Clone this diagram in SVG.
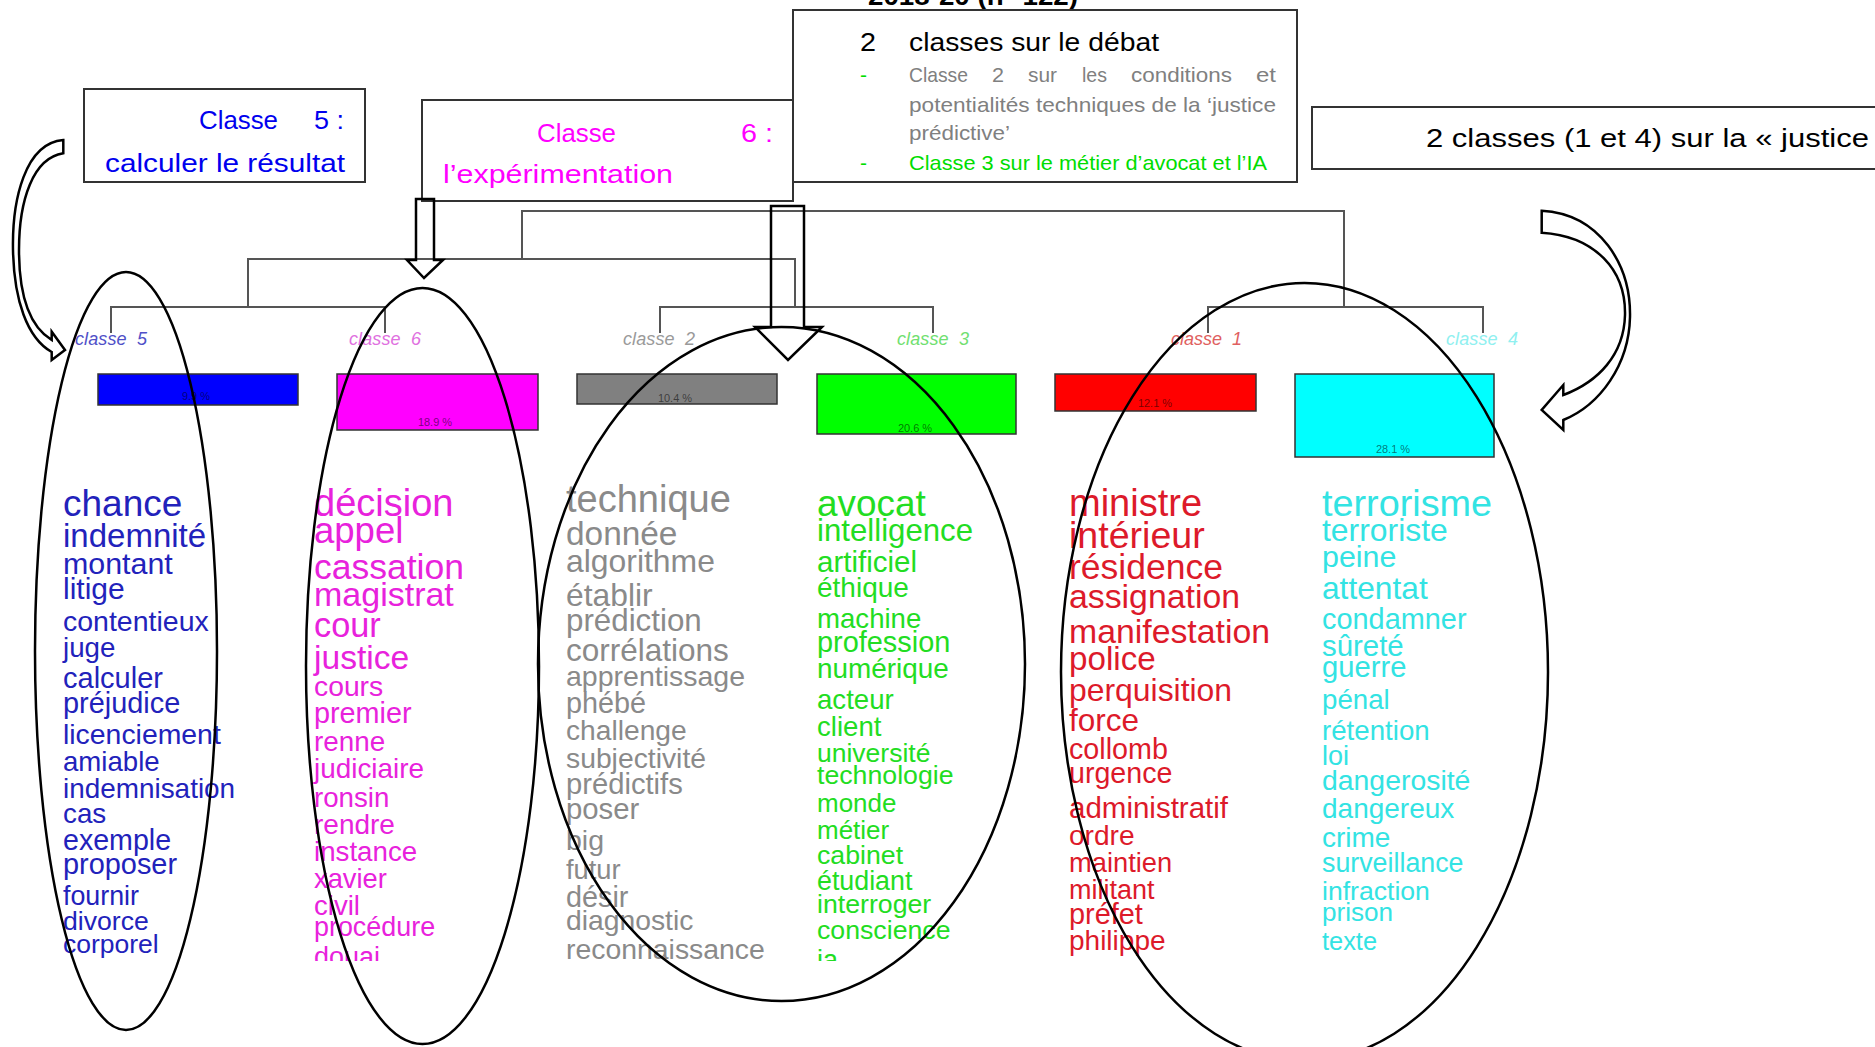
<svg xmlns="http://www.w3.org/2000/svg" width="1875" height="1047" viewBox="0 0 1875 1047">
<defs>
<style>
.box{fill:#fff;stroke:#333;stroke-width:2}
.dend{fill:none;stroke:#555;stroke-width:2}
.ell{fill:none;stroke:#000;stroke-width:2.5}
.arr{fill:none;stroke:#000;stroke-width:2.5;stroke-linejoin:miter}
.carr{fill:#fff;stroke:#000;stroke-width:2.5;stroke-linejoin:miter}
.t{font-family:"Liberation Sans",Arial,sans-serif;font-size:26px}
.g{font-family:"Liberation Sans",Arial,sans-serif;font-size:21px;fill:#808080}
.lbl{font-family:"Liberation Sans",Arial,sans-serif;font-style:italic;font-size:18px}
.pct{font-family:"Liberation Sans",Arial,sans-serif;font-size:11px;fill:#000;fill-opacity:.55;text-anchor:middle}
.w{font-family:"Liberation Sans",Arial,sans-serif}
.c5{fill:#2222bb}.c6{fill:#e822dc}.c2{fill:#8a8a8a}.c3{fill:#22dd22}.c1{fill:#dd1a2a}.c4{fill:#33e3e3}
</style>
<clipPath id="wc"><rect x="0" y="380" width="1875" height="581"/></clipPath>
</defs>

<g id="title">
<text class="t" x="868" y="4.5" font-weight="bold" textLength="210" lengthAdjust="spacingAndGlyphs">2018-20 (n° 122)</text>
</g>

<g id="connectors">
<polyline class="dend" points="522,259 522,211 1344,211 1344,307"/>
<polyline class="dend" points="248,307 248,259 795,259 795,307"/>
<polyline class="dend" points="111,333 111,307 385,307 385,333"/>
<polyline class="dend" points="660,333 660,307 933,307 933,333"/>
<polyline class="dend" points="1208,333 1208,307 1483,307 1483,333"/>
</g>

<g id="classe5">
<text class="lbl" x="75" y="345" fill="#5050c8" xml:space="preserve" textLength="72">classe  5</text>
<rect x="98" y="374" width="200" height="31" fill="#0000ff" stroke="#333" stroke-width="1.5"/>
<text class="pct" x="196" y="400">9.9 %</text>
<g class="w c5" clip-path="url(#wc)">
<text x="63" y="515.5" font-size="37">chance</text>
<text x="63" y="546.5" font-size="33">indemnité</text>
<text x="63" y="573.6" font-size="30.4">montant</text>
<text x="63" y="598.7" font-size="30">litige</text>
<text x="63" y="630.5" font-size="28.5">contentieux</text>
<text x="63" y="656.8" font-size="27.7">juge</text>
<text x="63" y="687.8" font-size="29">calculer</text>
<text x="63" y="713" font-size="28.9">préjudice</text>
<text x="63" y="744" font-size="28.4">licenciement</text>
<text x="63" y="771" font-size="27.6">amiable</text>
<text x="63" y="798" font-size="27.9">indemnisation</text>
<text x="63" y="823" font-size="27.8">cas</text>
<text x="63" y="850" font-size="28.6">exemple</text>
<text x="63" y="874" font-size="28.9">proposer</text>
<text x="63" y="904.6" font-size="26.8">fournir</text>
<text x="63" y="929.7" font-size="26.6">divorce</text>
<text x="63" y="953" font-size="26.5">corporel</text>
</g>
</g>

<g id="classe6">
<text class="lbl" x="349" y="345" fill="#e070e0" xml:space="preserve" textLength="72">classe  6</text>
<rect x="337" y="374" width="201" height="56" fill="#ff00ff" stroke="#333" stroke-width="1.5"/>
<text class="pct" x="435" y="426">18.9 %</text>
<g class="w c6" clip-path="url(#wc)">
<text x="314" y="515.5" font-size="38">décision</text>
<text x="314" y="542.6" font-size="36.5">appel</text>
<text x="314" y="578.6" font-size="35.5">cassation</text>
<text x="314" y="605.7" font-size="34">magistrat</text>
<text x="314" y="637.4" font-size="34.3">cour</text>
<text x="314" y="669" font-size="33.6">justice</text>
<text x="314" y="695.5" font-size="28.3">cours</text>
<text x="314" y="723.4" font-size="28.8">premier</text>
<text x="314" y="750.5" font-size="27.8">renne</text>
<text x="314" y="777.6" font-size="27.9">judiciaire</text>
<text x="314" y="807" font-size="27.7">ronsin</text>
<text x="314" y="834" font-size="28">rendre</text>
<text x="314" y="861" font-size="27.7">instance</text>
<text x="314" y="888" font-size="27.3">xavier</text>
<text x="314" y="915.4" font-size="27.6">civil</text>
<text x="314" y="936.3" font-size="26.9">procédure</text>
<text x="314" y="966" font-size="27">douai</text>
</g>
</g>

<g id="classe2">
<text class="lbl" x="623" y="345" fill="#9a9a9a" xml:space="preserve" textLength="72">classe  2</text>
<rect x="577" y="374" width="200" height="30" fill="#808080" stroke="#333" stroke-width="1.5"/>
<text class="pct" x="675" y="401.5">10.4 %</text>
<g class="w c2" clip-path="url(#wc)">
<text x="566" y="511.6" font-size="38">technique</text>
<text x="566" y="545.3" font-size="33.4">donnée</text>
<text x="566" y="572.4" font-size="31.9">algorithme</text>
<text x="566" y="605.7" font-size="31.8">établir</text>
<text x="566" y="630.5" font-size="31.3">prédiction</text>
<text x="566" y="661.4" font-size="31.5">corrélations</text>
<text x="566" y="685.8" font-size="28.5">apprentissage</text>
<text x="566" y="713" font-size="28.8">phébé</text>
<text x="566" y="740" font-size="28.2">challenge</text>
<text x="566" y="768.3" font-size="28.3">subjectivité</text>
<text x="566" y="794.2" font-size="29.2">prédictifs</text>
<text x="566" y="819.4" font-size="29.3">poser</text>
<text x="566" y="849.6" font-size="28.5">big</text>
<text x="566" y="879.4" font-size="27.3">futur</text>
<text x="566" y="906.5" font-size="28.8">désir</text>
<text x="566" y="929.7" font-size="28.3">diagnostic</text>
<text x="566" y="958.8" font-size="28.4">reconnaissance</text>
</g>
</g>

<g id="classe3">
<text class="lbl" x="897" y="345" fill="#70e070" xml:space="preserve" textLength="72">classe  3</text>
<rect x="817" y="374" width="199" height="60" fill="#00ff00" stroke="#333" stroke-width="1.5"/>
<text class="pct" x="915" y="431.5">20.6 %</text>
<g class="w c3" clip-path="url(#wc)">
<text x="817" y="515.5" font-size="36.9">avocat</text>
<text x="817" y="540.7" font-size="31.2">intelligence</text>
<text x="817" y="571.6" font-size="29.5">artificiel</text>
<text x="817" y="596.8" font-size="28">éthique</text>
<text x="817" y="627.8" font-size="27.6">machine</text>
<text x="817" y="652.2" font-size="28.9">profession</text>
<text x="817" y="678" font-size="27.9">numérique</text>
<text x="817" y="709" font-size="27.6">acteur</text>
<text x="817" y="736" font-size="27.6">client</text>
<text x="817" y="762" font-size="26.5">université</text>
<text x="817" y="783.8" font-size="26.7">technologie</text>
<text x="817" y="812.4" font-size="26">monde</text>
<text x="817" y="838.8" font-size="26">métier</text>
<text x="817" y="864" font-size="26.7">cabinet</text>
<text x="817" y="889.9" font-size="26.8">étudiant</text>
<text x="817" y="913" font-size="26.7">interroger</text>
<text x="817" y="939.4" font-size="26.7">conscience</text>
<text x="817" y="968.5" font-size="27">ia</text>
</g>
</g>

<g id="classe1">
<text class="lbl" x="1171" y="345" fill="#e06060" xml:space="preserve" textLength="71">classe  1</text>
<rect x="1055" y="374" width="201" height="37" fill="#ff0000" stroke="#333" stroke-width="1.5"/>
<text class="pct" x="1155" y="407">12.1 %</text>
<g class="w c1" clip-path="url(#wc)">
<text x="1069" y="515.5" font-size="38">ministre</text>
<text x="1069" y="548.4" font-size="37.6">intérieur</text>
<text x="1069" y="578.6" font-size="35.5">résidence</text>
<text x="1069" y="608.4" font-size="33.8">assignation</text>
<text x="1069" y="643.3" font-size="33.8">manifestation</text>
<text x="1069" y="670.3" font-size="33.2">police</text>
<text x="1069" y="701.3" font-size="31.9">perquisition</text>
<text x="1069" y="731.1" font-size="31.5">force</text>
<text x="1069" y="759.4" font-size="28.7">collomb</text>
<text x="1069" y="782.6" font-size="28.6">urgence</text>
<text x="1069" y="817.5" font-size="29.5">administratif</text>
<text x="1069" y="844.6" font-size="28.1">ordre</text>
<text x="1069" y="871.7" font-size="27.3">maintien</text>
<text x="1069" y="898.8" font-size="27">militant</text>
<text x="1069" y="924" font-size="28.9">préfet</text>
<text x="1069" y="950.3" font-size="28">philippe</text>
</g>
</g>

<g id="classe4">
<text class="lbl" x="1446" y="345" fill="#90f0f0" xml:space="preserve" textLength="72">classe  4</text>
<rect x="1295" y="374" width="199" height="83" fill="#00ffff" stroke="#333" stroke-width="1.5"/>
<text class="pct" x="1393" y="453">28.1 %</text>
<g class="w c4" clip-path="url(#wc)">
<text x="1322" y="515.5" font-size="37.8">terrorisme</text>
<text x="1322" y="541.4" font-size="31.9">terroriste</text>
<text x="1322" y="567" font-size="30.4">peine</text>
<text x="1322" y="598.7" font-size="31.7">attentat</text>
<text x="1322" y="628.9" font-size="28.9">condamner</text>
<text x="1322" y="656" font-size="29.4">sûreté</text>
<text x="1322" y="677" font-size="29.2">guerre</text>
<text x="1322" y="709" font-size="27.7">pénal</text>
<text x="1322" y="740" font-size="27.7">rétention</text>
<text x="1322" y="765.2" font-size="27">loi</text>
<text x="1322" y="790.4" font-size="28.4">dangerosité</text>
<text x="1322" y="817.5" font-size="28">dangereux</text>
<text x="1322" y="847.3" font-size="28">crime</text>
<text x="1322" y="871.7" font-size="26.8">surveillance</text>
<text x="1322" y="900" font-size="26.6">infraction</text>
<text x="1322" y="920.8" font-size="26.1">prison</text>
<text x="1322" y="950.3" font-size="25.4">texte</text>
</g>
</g>

<g id="ellipses">
<ellipse class="ell" cx="126" cy="651" rx="91" ry="379"/>
<ellipse class="ell" cx="422.5" cy="666" rx="116.5" ry="378"/>
<ellipse class="ell" cx="781.5" cy="664" rx="243.5" ry="337"/>
<ellipse class="ell" cx="1304.5" cy="672" rx="243.5" ry="389"/>
</g>

<g id="box-classe5">
<rect class="box" x="84" y="89" width="281" height="93"/>
<text class="t" x="199" y="129.3" fill="#0000ee" textLength="79" lengthAdjust="spacingAndGlyphs">Classe</text>
<text class="t" x="314" y="129.3" fill="#0000ee" textLength="30" lengthAdjust="spacingAndGlyphs">5 :</text>
<text class="t" x="105" y="171.7" fill="#0000ee" textLength="240" lengthAdjust="spacingAndGlyphs">calculer le résultat</text>
</g>

<g id="box-classe6">
<rect class="box" x="422" y="100" width="371" height="101"/>
<text class="t" x="537" y="141.7" fill="#ff00ff" textLength="79" lengthAdjust="spacingAndGlyphs">Classe</text>
<text class="t" x="741" y="141.7" fill="#ff00ff" textLength="32" lengthAdjust="spacingAndGlyphs">6 :</text>
<text class="t" x="443" y="182.7" fill="#ff00ff" textLength="230" lengthAdjust="spacingAndGlyphs">l’expérimentation</text>
</g>

<g id="box-debat">
<rect class="box" x="793" y="10" width="504" height="172"/>
<text class="t" x="860" y="50.7" fill="#000" textLength="16" lengthAdjust="spacingAndGlyphs">2</text>
<text class="t" x="909" y="50.7" fill="#000" textLength="250" lengthAdjust="spacingAndGlyphs">classes sur le débat</text>
<text class="g" x="860" y="81.7" fill="#00dd00" style="fill:#00dd00">-</text>
<text class="g" x="909" y="81.7" textLength="59" lengthAdjust="spacingAndGlyphs">Classe</text>
<text class="g" x="992" y="81.7" textLength="12" lengthAdjust="spacingAndGlyphs">2</text>
<text class="g" x="1028" y="81.7" textLength="29" lengthAdjust="spacingAndGlyphs">sur</text>
<text class="g" x="1082" y="81.7" textLength="25" lengthAdjust="spacingAndGlyphs">les</text>
<text class="g" x="1131" y="81.7" textLength="101" lengthAdjust="spacingAndGlyphs">conditions</text>
<text class="g" x="1256" y="81.7" textLength="20" lengthAdjust="spacingAndGlyphs">et</text>
<text class="g" x="909" y="111.7" textLength="367" lengthAdjust="spacingAndGlyphs">potentialités techniques de la ‘justice</text>
<text class="g" x="909" y="140" textLength="101" lengthAdjust="spacingAndGlyphs">prédictive’</text>
<text class="g" x="860" y="170" style="fill:#00dd00">-</text>
<text class="g" x="909" y="170" style="fill:#00dd00" textLength="358" lengthAdjust="spacingAndGlyphs">Classe 3 sur le métier d’avocat et l’IA</text>
</g>

<g id="box-justice">
<rect class="box" x="1312" y="107" width="580" height="62"/>
<text class="t" x="1426" y="146.7" fill="#000" textLength="443" lengthAdjust="spacingAndGlyphs">2 classes (1 et 4) sur la « justice</text>
</g>

<g id="arrows">
<path class="arr" d="M416,199 L434,199 L434,260 L443,260 L424,278 L407,260 L416,260 Z"/>
<path class="arr" d="M771,206 L804,206 L804,327 L822,327 L788,360 L755,327 L771,327 Z"/>
<path class="carr" d="M63.3,140 C25,143 12,200 13,250 C14,300 27,338 51.7,352 L51.7,360 L65,350 L51.7,331.7 L51.7,340 C32,328 19,300 19,250 C19,200 33,158 63.3,153.3 Z"/>
<path class="carr" d="M1541.7,210.7 C1600,214 1631,265 1630,317 C1629,365 1600,405 1563.3,420 L1563.3,430 L1541.7,410 L1563.3,385 L1563.3,395 C1598,382 1624,355 1625,315 C1626,270 1595,236 1541.7,232.7 Z"/>
</g>
</svg>
